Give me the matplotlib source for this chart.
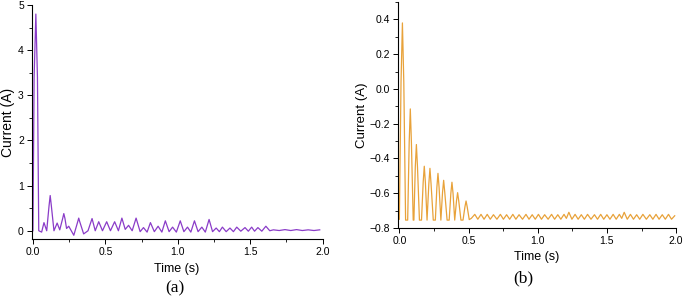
import numpy as np
import matplotlib
matplotlib.use("Agg")
import matplotlib.pyplot as plt
from matplotlib.ticker import MultipleLocator

plt.rcParams['font.family'] = ['Liberation Sans', 'DejaVu Sans']

# (a) purple current trace: peaks, shoulders and troughs
time_a = [0.0, 0.008, 0.02, 0.031, 0.04, 0.06, 0.076, 0.095, 0.111, 0.119,
          0.127, 0.145, 0.167, 0.185, 0.205, 0.213, 0.221, 0.232, 0.247, 0.282,
          0.309, 0.316, 0.323, 0.35, 0.38, 0.408, 0.43, 0.454,
          0.48, 0.509, 0.535, 0.564, 0.59, 0.614, 0.637, 0.66, 0.685, 0.712,
          0.74, 0.763, 0.788, 0.811, 0.838, 0.864, 0.89, 0.914, 0.94, 0.964,
          0.99, 1.017, 1.042, 1.067, 1.09, 1.115, 1.14, 1.166, 1.19, 1.216,
          1.24, 1.265, 1.287, 1.308, 1.334, 1.36, 1.384, 1.407, 1.435, 1.464,
          1.487, 1.51, 1.53, 1.553, 1.58, 1.608, 1.635, 1.66, 1.70, 1.74,
          1.78, 1.82, 1.86, 1.90, 1.94, 1.98]
current_a = [0.0, 3.4, 4.8, 3.4, 0.0, -0.03, 0.18, 0.0, 0.55, 0.78,
             0.55, 0.0, 0.17, 0.02, 0.27, 0.38, 0.27, 0.05, 0.1, -0.1,
             0.2, 0.28, 0.2, -0.07, 0.0, 0.27, 0.0, 0.2,
             0.0, 0.2, 0.0, 0.2, 0.0, 0.28, 0.03, 0.12, 0.0, 0.28,
             -0.02, 0.07, -0.03, 0.18, -0.02, 0.1, -0.03, 0.22, -0.02, 0.08,
             -0.03, 0.22, -0.02, 0.08, -0.03, 0.22, -0.02, 0.08, -0.03, 0.25,
             -0.02, 0.06, -0.02, 0.08, -0.02, 0.06, -0.02, 0.08, -0.01, 0.07,
             -0.01, 0.08, -0.01, 0.07, -0.01, 0.1, 0.0, 0.02, 0.005, 0.025,
             0.005, 0.025, 0.005, 0.02, 0.005, 0.02]

# (b) orange current trace
time_b = [0.0, 0.012, 0.022, 0.032, 0.045, 0.06, 0.071, 0.079, 0.087, 0.1,
          0.105, 0.115, 0.123, 0.131, 0.145, 0.16, 0.172, 0.18, 0.188, 0.2,
          0.213, 0.221, 0.229, 0.245, 0.26, 0.271, 0.279, 0.287, 0.3, 0.312,
          0.32, 0.328, 0.345, 0.36, 0.372, 0.38, 0.388, 0.4, 0.413, 0.421,
          0.429, 0.445, 0.46, 0.474, 0.482, 0.49, 0.505, 0.52,
          0.545, 0.567, 0.59, 0.612, 0.635, 0.657, 0.68, 0.705, 0.73, 0.752,
          0.775, 0.797, 0.82, 0.842, 0.865, 0.89, 0.915, 0.937, 0.96, 0.982,
          1.005, 1.027, 1.05, 1.075, 1.10, 1.122, 1.145, 1.167, 1.19, 1.207,
          1.225, 1.247, 1.27, 1.292, 1.315, 1.337, 1.36, 1.385, 1.41, 1.432,
          1.455, 1.477, 1.50, 1.522, 1.545, 1.567, 1.59, 1.607, 1.625, 1.647,
          1.67, 1.692, 1.715, 1.737, 1.76, 1.785, 1.81, 1.832, 1.855, 1.877,
          1.90, 1.922, 1.945, 1.967, 1.99]
current_b = [-0.75, 0.04, 0.38, 0.04, -0.755, -0.755, -0.307, -0.115, -0.307, -0.755,
             -0.755, -0.45, -0.32, -0.45, -0.755, -0.755, -0.538, -0.445, -0.538, -0.755,
             -0.546, -0.457, -0.546, -0.755, -0.755, -0.567, -0.486, -0.567, -0.755, -0.595,
             -0.526, -0.595, -0.755, -0.755, -0.602, -0.537, -0.602, -0.755, -0.644, -0.597,
             -0.644, -0.755, -0.755, -0.678, -0.645, -0.678, -0.752, -0.745,
             -0.722, -0.75, -0.722, -0.75, -0.722, -0.75, -0.724, -0.75, -0.722, -0.75,
             -0.724, -0.75, -0.722, -0.75, -0.724, -0.75, -0.722, -0.75, -0.724, -0.75,
             -0.722, -0.75, -0.724, -0.75, -0.722, -0.75, -0.724, -0.75, -0.722, -0.745,
             -0.71, -0.75, -0.722, -0.75, -0.724, -0.75, -0.722, -0.75, -0.724, -0.75,
             -0.722, -0.75, -0.724, -0.75, -0.722, -0.75, -0.722, -0.745, -0.71, -0.75,
             -0.722, -0.75, -0.724, -0.75, -0.722, -0.75, -0.724, -0.75, -0.722, -0.75,
             -0.724, -0.75, -0.722, -0.75, -0.73]

fig = plt.figure(figsize=(6.85, 2.96), dpi=100)
ax1 = fig.add_axes([0.046, 0.193, 0.425, 0.790])
ax2 = fig.add_axes([0.581, 0.230, 0.406, 0.763])

ax1.plot(time_a, current_a, color='#8a3cc8', lw=0.9)
ax2.plot(time_b, current_b, color='#e8a23a', lw=0.9)

ax1.set_xlim(-0.01, 2.0)
ax1.set_ylim(-0.18, 5.0)
ax1.yaxis.set_major_locator(MultipleLocator(1))
ax1.yaxis.set_minor_locator(MultipleLocator(0.5))

ax2.set_xlim(-0.01, 2.0)
ax2.set_ylim(-0.8, 0.5)
ax2.yaxis.set_major_locator(MultipleLocator(0.2))
ax2.yaxis.set_minor_locator(MultipleLocator(0.1))
ax2.yaxis.set_major_formatter(plt.FuncFormatter(lambda v, p: f"{v:.1f}".replace('-', '\u2212')))

for ax in (ax1, ax2):
    for s in ('top', 'right'):
        ax.spines[s].set_visible(False)
    for s in ('left', 'bottom'):
        ax.spines[s].set_linewidth(0.8)
    ax.xaxis.set_major_locator(MultipleLocator(0.5))
    ax.xaxis.set_minor_locator(MultipleLocator(0.25))
    ax.xaxis.set_major_formatter(plt.FuncFormatter(lambda v, p: f"{v:.1f}"))
    ax.tick_params(which='major', direction='out', length=3.5, width=0.7, labelsize=7.5, pad=2)
    ax.tick_params(which='minor', direction='out', length=2, width=0.6)

ax1.set_xlabel('Time (s)', fontsize=9, labelpad=5)
ax1.set_ylabel('Current (A)', fontsize=10)
ax1.yaxis.set_label_coords(-0.056, 0.5)
ax2.set_xlabel('Time (s)', fontsize=9, labelpad=4)
ax2.set_ylabel('Current (A)', fontsize=9.5)
ax2.yaxis.set_label_coords(-0.108, 0.5)

fig.text(175 / 685, 1 - 288 / 296, '(a)', family='Liberation Serif', fontsize=12.5, ha='center', va='center')
fig.text(523 / 685, 1 - 278 / 296, '(b)', family='Liberation Serif', fontsize=12.5, ha='center', va='center')

fig.savefig('out.png', dpi=100)
